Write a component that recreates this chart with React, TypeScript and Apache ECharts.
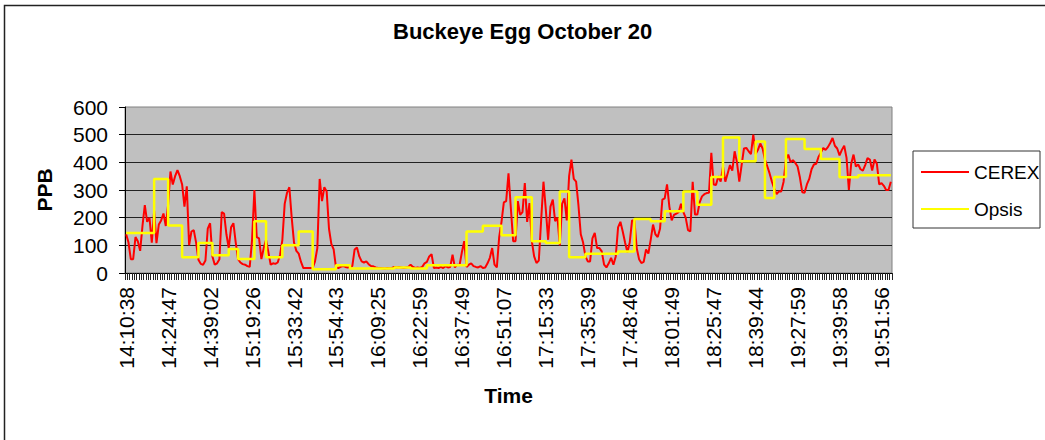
import React, { useEffect, useRef } from "react";
import * as echarts from "echarts";

const FONT = 'Arial, "Liberation Sans", Helvetica, sans-serif';

// Tick labels shown every 18th sample
const tickLabels = [
  "14:10:38", "14:24:47", "14:39:02", "15:19:26", "15:33:42", "15:54:43",
  "16:09:25", "16:22:59", "16:37:49", "16:51:07", "17:15:33", "17:35:39",
  "17:48:46", "18:01:49", "18:25:47", "18:39:44", "19:27:59", "19:39:58",
  "19:51:56",
];
const LABEL_EVERY = 18;

// CEREX readings (PPB), one per sample
const cerex = [
  140, 110, 50, 50, 130, 115, 80, 170, 245, 185,
  200, 110, 225, 108, 175, 190, 215, 170, 247, 367,
  320, 350, 372, 350, 320, 240, 313, 100, 150, 155,
  110, 48, 33, 30, 45, 160, 180, 60, 30, 35,
  50, 220, 215, 140, 90, 165, 180, 110, 50, 38,
  32, 30, 25, 22, 120, 300, 130, 125, 50, 90,
  120, 75, 30, 35, 33, 38, 65, 120, 250, 290,
  310, 200, 110, 80, 70, 40, 18, 18, 18, 18,
  18, 42, 90, 340, 260, 310, 295, 160, 105, 85,
  20, 18, 22, 25, 22, 20, 22, 25, 85, 92,
  60, 42, 38, 42, 32, 25, 24, 20, 18, 18,
  17, 16, 18, 17, 18, 22, 20, 22, 20, 18,
  20, 22, 30, 22, 18, 20, 18, 22, 35, 40,
  60, 68, 18, 20, 18, 22, 18, 25, 20, 22,
  66, 20, 30, 28, 75, 115, 22, 30, 35, 25,
  22, 20, 25, 18, 20, 35, 55, 90, 30, 20,
  130, 185, 255, 260, 360, 235, 115, 115, 260, 210,
  220, 325, 185, 253, 115, 60, 36, 45, 190, 330,
  230, 120, 240, 265, 187, 200, 100, 250, 270, 190,
  350, 410, 340, 330, 245, 140, 110, 60, 42, 42,
  125, 145, 90, 90, 78, 30, 20, 35, 55, 30,
  60, 165, 185, 150, 110, 75, 110, 190, 190, 90,
  50, 36, 40, 85, 70, 120, 175, 140, 130, 160,
  265, 270, 320, 240, 190, 210, 215, 220, 250, 220,
  200, 155, 150, 330, 211, 211, 255, 277, 285, 289,
  290, 434, 320, 318, 350, 330, 385, 330, 360, 390,
  370, 440, 400, 330, 390, 450, 452, 440, 430, 500,
  430, 445, 468, 450, 410, 386, 360, 330, 305, 285,
  295, 295, 330, 410, 428, 400, 408, 398, 385, 345,
  292, 290, 320, 340, 375, 392, 395, 420, 435, 452,
  445, 455, 470, 488, 460, 450, 425, 445, 460, 416,
  300, 395, 428, 385, 392, 375, 370, 390, 415, 410,
  370, 410, 395, 320, 325, 315, 300, 300, 330,
];

// Opsis: sample index where each level starts, and the level (PPB)
const opsisStart = [
  0, 12, 18, 24, 31, 37, 44, 48, 55, 60, 67, 74, 80, 90, 96, 115, 122, 129,
  146, 153, 161, 167, 174, 180, 186, 190, 197, 211, 218, 225, 231, 239, 245,
  251, 256, 263, 270, 274, 278, 283, 291, 298, 306, 314,
];
const opsisValue = [
  145, 340, 172, 57, 108, 64, 87, 51, 187, 57, 100, 150, 14, 28, 16, 20, 16, 28,
  150, 171, 136, 274, 115, 108, 295, 57, 70, 78, 195, 187, 223, 295, 247,
  347, 490, 404, 475, 271, 347, 484, 448, 412, 346, 353,
];

export default function App() {
  const ref = useRef<HTMLDivElement>(null);

  useEffect(() => {
    if (!ref.current) return;
    const chart = echarts.init(ref.current, undefined, { renderer: "svg" });
    const n = cerex.length;
    const categories = cerex.map((_, i) => String(i));
    const opsisData: [number, number][] = opsisStart.map((s, k) => [s, opsisValue[k]]);
    opsisData.push([n - 1, opsisValue[opsisValue.length - 1]]);

    chart.setOption({
      animation: false,
      backgroundColor: "#ffffff",
      textStyle: { fontFamily: FONT },
      title: {
        text: "Buckeye Egg October 20",
        left: 393,
        top: 20,
        padding: 0,
        textStyle: { fontSize: 22, fontWeight: "bold", color: "#000", fontFamily: FONT },
      },
      grid: {
        left: 125,
        right: 153,
        top: 107,
        bottom: 167,
        show: true,
        backgroundColor: "#C0C0C0",
        borderColor: "#808080",
        borderWidth: 1,
      },
      legend: {
        data: ["CEREX", "Opsis"],
        orient: "vertical",
        left: 921,
        top: 162,
        padding: 0,
        icon: "rect",
        itemWidth: 48,
        itemHeight: 2,
        itemGap: 17,
        textStyle: { fontSize: 19, lineHeight: 20, color: "#000", fontFamily: FONT },
      },
      xAxis: {
        type: "category",
        data: categories,
        boundaryGap: true,
        name: "Time",
        nameLocation: "middle",
        nameGap: 112,
        nameTextStyle: { fontSize: 21, fontWeight: "bold", color: "#000", fontFamily: FONT },
        axisLine: { show: true, lineStyle: { color: "#000", width: 1 } },
        axisTick: {
          show: true,
          interval: () => true,
          length: 7,
          lineStyle: { color: "#222", width: 1 },
        },
        axisLabel: {
          interval: LABEL_EVERY - 1,
          rotate: 90,
          margin: 14,
          fontSize: 21,
          color: "#000",
          fontFamily: FONT,
          formatter: (_v: string, idx: number) =>
            idx % LABEL_EVERY === 0 ? tickLabels[idx / LABEL_EVERY] ?? "" : "",
        },
        splitLine: { show: false },
      },
      yAxis: {
        type: "value",
        min: 0,
        max: 600,
        interval: 100,
        name: "PPB",
        nameLocation: "middle",
        nameRotate: 90,
        nameGap: 70,
        nameTextStyle: { fontSize: 21, fontWeight: "bold", color: "#000", fontFamily: FONT },
        axisLine: { show: true, lineStyle: { color: "#000", width: 1 } },
        axisTick: { show: true, length: 6, lineStyle: { color: "#000" } },
        axisLabel: { margin: 17, fontSize: 21, color: "#000", fontFamily: FONT },
        splitLine: {
          show: true,
          showMaxLine: false,
          showMinLine: false,
          lineStyle: { color: "#222", width: 1 },
        },
      },
      graphic: [
        {
          type: "rect",
          shape: { x: 4.5, y: 5.5, width: 2000, height: 2000 },
          style: { fill: "none", stroke: "#222", lineWidth: 1.5 },
          silent: true,
        },
        {
          type: "rect",
          shape: { x: 913, y: 151, width: 127, height: 77 },
          style: { fill: "#fff", stroke: "#333", lineWidth: 1 },
          silent: true,
        },
      ],
      series: [
        {
          name: "CEREX",
          type: "line",
          data: cerex,
          symbol: "none",
          color: "#FF0000",
          lineStyle: { color: "#FF0000", width: 2 },
          z: 2,
        },
        {
          name: "Opsis",
          type: "line",
          data: opsisData,
          step: "end",
          symbol: "none",
          color: "#FFFF00",
          lineStyle: { color: "#FFFF00", width: 2.5 },
          z: 3,
        },
      ],
    });
    return () => chart.dispose();
  }, []);

  return (
    <div
      ref={ref}
      style={{ position: "absolute", left: 0, top: 0, width: 1045, height: 440 }}
    />
  );
}
